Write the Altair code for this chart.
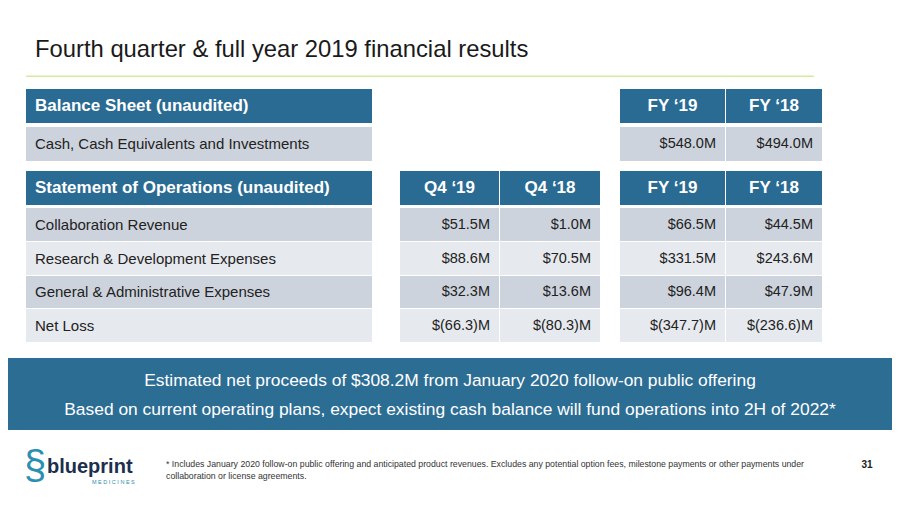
import altair as alt
import pandas as pd

# ---------------- data ----------------
title_text = "Fourth quarter & full year 2019 financial results"
bs_header = "Balance Sheet (unaudited)"
bs_rows = ["Cash, Cash Equivalents and Investments"]
bs_fy19 = [548.0]
bs_fy18 = [494.0]

ops_header = "Statement of Operations (unaudited)"
ops_rows = ["Collaboration Revenue", "Research & Development Expenses",
            "General & Administrative Expenses", "Net Loss"]
q4_19 = [51.5, 88.6, 32.3, -66.3]
q4_18 = [1.0, 70.5, 13.6, -80.3]
fy_19 = [66.5, 331.5, 96.4, -347.7]
fy_18 = [44.5, 243.6, 47.9, -236.6]
q_cols = ["Q4 \u201819", "Q4 \u201818"]
fy_cols = ["FY \u201819", "FY \u201818"]

banner_lines = [
    "Estimated net proceeds of $308.2M from January 2020 follow-on public offering",
    "Based on current operating plans, expect existing cash balance will fund operations into 2H of 2022*",
]
footnote_lines = [
    "* Includes January 2020 follow-on public offering and anticipated product revenues. Excludes any potential option fees, milestone payments or other payments under",
    "collaboration or license agreements.",
]
page_number = "31"


def fmt(v):
    return f"$({abs(v):.1f})M" if v < 0 else f"${v:.1f}M"


# ---------------- layout (page pixels) ----------------
HEAD = "#2A6B93"
DARK = "#CDD3DD"
LIGHT = "#E6E9EE"
BANNER = "#2C6D94"
TXT = "#222222"

label_col = (26, 372)
val_cols = [(400, 499), (500, 600), (620, 725), (726, 822)]
bs_head_y = (89, 123)
bs_row_y = [(127, 161)]
ops_head_y = (171, 205)
ops_row_y = [(208, 241), (242, 275), (276, 308), (309, 342)]

rects, htext_l, htext_c, labels, values = [], [], [], [], []

# balance sheet
rects.append(dict(x=label_col[0], x2=label_col[1], y=bs_head_y[0], y2=bs_head_y[1], fill=HEAD))
htext_l.append(dict(x=35, y=sum(bs_head_y) / 2, t=bs_header))
for j, c in enumerate(fy_cols):
    xa, xb = val_cols[2 + j]
    rects.append(dict(x=xa, x2=xb, y=bs_head_y[0], y2=bs_head_y[1], fill=HEAD))
    htext_c.append(dict(x=(xa + xb) / 2, y=sum(bs_head_y) / 2, t=c))
for i, lab in enumerate(bs_rows):
    ya, yb = bs_row_y[i]
    rects.append(dict(x=label_col[0], x2=label_col[1], y=ya, y2=yb, fill=DARK))
    labels.append(dict(x=35, y=(ya + yb) / 2, t=lab))
    for j, arr in enumerate([bs_fy19, bs_fy18]):
        xa, xb = val_cols[2 + j]
        rects.append(dict(x=xa, x2=xb, y=ya, y2=yb, fill=DARK))
        values.append(dict(x=xb - 9, y=(ya + yb) / 2, t=fmt(arr[i])))

# operations
rects.append(dict(x=label_col[0], x2=label_col[1], y=ops_head_y[0], y2=ops_head_y[1], fill=HEAD))
htext_l.append(dict(x=35, y=sum(ops_head_y) / 2, t=ops_header))
for j, c in enumerate(q_cols + fy_cols):
    xa, xb = val_cols[j]
    rects.append(dict(x=xa, x2=xb, y=ops_head_y[0], y2=ops_head_y[1], fill=HEAD))
    htext_c.append(dict(x=(xa + xb) / 2, y=sum(ops_head_y) / 2, t=c))
for i, lab in enumerate(ops_rows):
    ya, yb = ops_row_y[i]
    fill = DARK if i % 2 == 0 else LIGHT
    rects.append(dict(x=label_col[0], x2=label_col[1], y=ya, y2=yb, fill=fill))
    labels.append(dict(x=35, y=(ya + yb) / 2, t=lab))
    for j, arr in enumerate([q4_19, q4_18, fy_19, fy_18]):
        xa, xb = val_cols[j]
        rects.append(dict(x=xa, x2=xb, y=ya, y2=yb, fill=fill))
        values.append(dict(x=xb - 9, y=(ya + yb) / 2, t=fmt(arr[i])))

# banner and title rule
rects.append(dict(x=0, x2=900, y=358, y2=430, fill=BANNER))
rects.append(dict(x=26, x2=814, y=75.5, y2=77, fill="#D6EA9C"))

rect_df = pd.DataFrame(rects)

# chart area covers page pixels 8..892 x 8..498
X = alt.Scale(domain=[8, 892], range=[0, 884])
Y = alt.Scale(domain=[8, 498], range=[0, 490])

rect_layer = alt.Chart(rect_df).mark_rect().encode(
    x=alt.X("x:Q", scale=X, axis=None),
    x2="x2:Q",
    y=alt.Y("y:Q", scale=Y, axis=None),
    y2="y2:Q",
    fill=alt.Fill("fill:N", scale=None),
)


def text_layer(rows, **kw):
    df = pd.DataFrame(rows)
    return alt.Chart(df).mark_text(baseline="middle", font="Liberation Sans", **kw).encode(
        x=alt.X("x:Q", scale=X, axis=None),
        y=alt.Y("y:Q", scale=Y, axis=None),
        text="t:N",
    )


layers = [
    rect_layer,
    text_layer(htext_l, align="left", fontSize=17, fontWeight="bold", color="white"),
    text_layer(htext_c, align="center", fontSize=17, fontWeight="bold", color="white"),
    text_layer(labels, align="left", fontSize=15, color=TXT),
    text_layer(values, align="right", fontSize=14.5, color=TXT),
    text_layer([dict(x=35, y=50, t=title_text)], align="left", fontSize=23.8, color="#1A1A1A"),
    text_layer([dict(x=450, y=381, t=banner_lines[0]), dict(x=450, y=410, t=banner_lines[1])],
               align="center", fontSize=17.4, color="white"),
    text_layer([dict(x=166, y=464, t=footnote_lines[0]), dict(x=166, y=476, t=footnote_lines[1])],
               align="left", fontSize=8.75, color="#333333"),
    text_layer([dict(x=867, y=465, t=page_number)], align="center", fontSize=10,
               fontWeight="bold", color="#222222"),
    text_layer([dict(x=47, y=467, t="blueprint")], align="left", fontSize=20,
               fontWeight="bold", color="#1B2F4E"),
    text_layer([dict(x=92, y=482, t="M E D I C I N E S")], align="left", fontSize=5.5,
               color="#2A8FB0"),
    text_layer([dict(x=35, y=467, t="\u00a7")], align="center", fontSize=40,
               color="#2A8FB0"),
]

chart = alt.layer(*layers).properties(
    width=884, height=490,
    autosize=alt.AutoSizeParams(type="none"),
    padding=0,
    background="white",
).configure_view(stroke=None)

chart.save("out.html", embed_options={"renderer": "svg", "actions": False})
